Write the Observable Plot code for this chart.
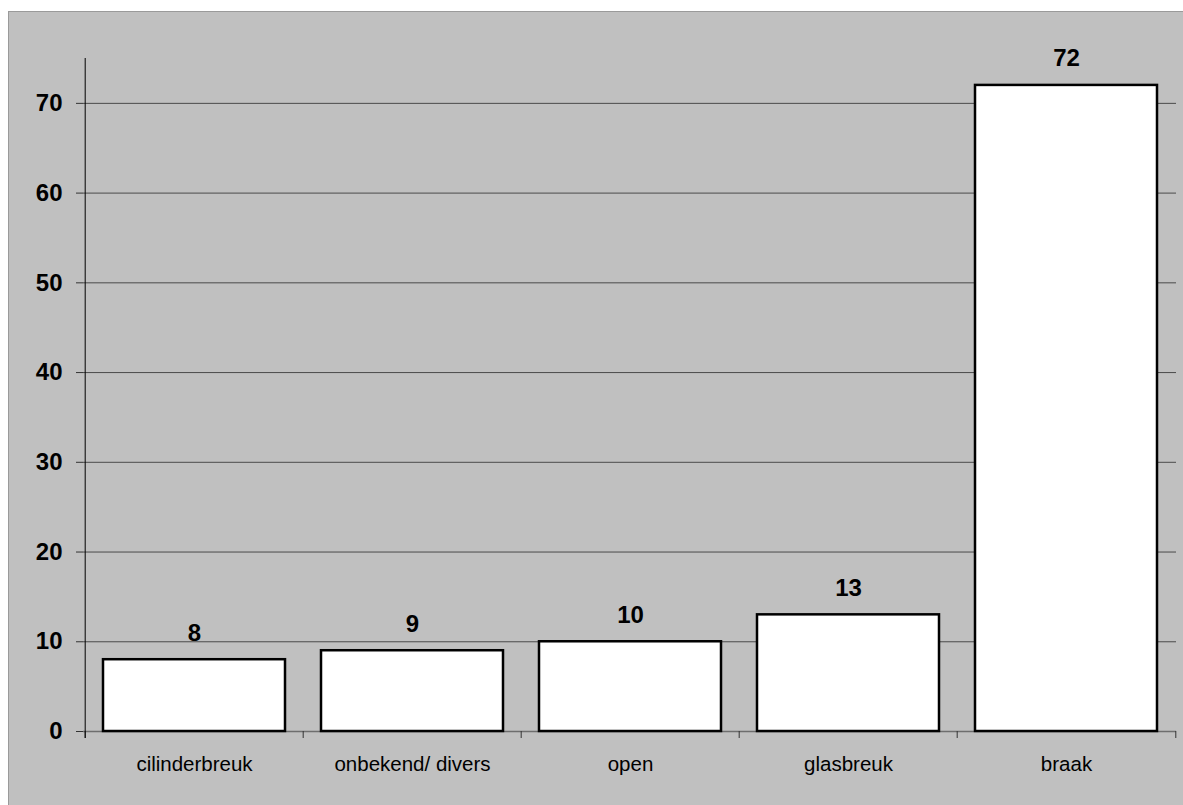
<!DOCTYPE html>
<html>
<head>
<meta charset="utf-8">
<script src="https://cdn.jsdelivr.net/npm/d3@7"></script>
<script src="https://cdn.jsdelivr.net/npm/@observablehq/plot@0.6"></script>
<style>
  html, body { margin: 0; padding: 0; background: #ffffff; }
  #bg { position: absolute; left: 8px; top: 11px; width: 1200px; height: 820px;
        background: #c0c0c0; border-top: 1px solid #9a9a9a; border-left: 1px solid #9a9a9a; }
  #chart { position: absolute; left: 0; top: 0; }
</style>
</head>
<body>
<div id="bg"></div>
<div id="chart"></div>
<script>
const categories = ["cilinderbreuk", "onbekend/ divers", "open", "glasbreuk", "braak"];
const values = [8, 9, 10, 13, 72];
const yTicks = [0, 10, 20, 30, 40, 50, 60, 70];
const yMax = 75;

const data = categories.map((c, i) => ({cat: c, value: values[i]}));

const W = 1183, H = 805;
const mL = 83, mR = 7, mT = 58, mB = 74;
const padInner = 0.167;
const step = (W - mL - mR) / categories.length;

const plot = Plot.plot({
  width: W,
  height: H,
  marginLeft: mL,
  marginRight: mR,
  marginTop: mT,
  marginBottom: mB,
  style: {background: "transparent", fontFamily: "'Liberation Sans', Arial, sans-serif", overflow: "visible"},
  x: {domain: categories, paddingInner: padInner, paddingOuter: padInner / 2, align: 0.5, axis: null, label: null},
  y: {domain: [0, yMax], axis: null, label: null},
  marks: [
    // gridlines
    Plot.ruleY(yTicks.filter(d => d > 0), {stroke: "#4a4a4a", strokeWidth: 1}),
    // zero baseline
    Plot.ruleY([0], {stroke: "#6e6e6e", strokeWidth: 1.5}),
    // bars
    Plot.barY(data, {x: "cat", y: "value", fill: "white", stroke: "black", strokeWidth: 2.5}),
    // category boundary ticks
    Plot.ruleX(categories, {x: d => d, dx: -step / 2, y1: 0, y2: 0, insetBottom: -7, stroke: "#333", strokeWidth: 1}),
    Plot.ruleX([categories[categories.length - 1]], {x: d => d, dx: step / 2, y1: 0, y2: 0, insetBottom: -7, stroke: "#333", strokeWidth: 1}),
    // y axis line
    Plot.ruleX([categories[0]], {x: d => d, dx: -step / 2, y1: yMax, y2: 0, insetBottom: -7, stroke: "black", strokeWidth: 1}),
    // y axis ticks & labels
    Plot.axisY(yTicks, {tickSize: 7, tickPadding: 14, stroke: "#333", fontSize: 24, fontWeight: "bold", fill: "black", label: null}),
    // x labels
    Plot.axisX(categories, {tickSize: 0, tickPadding: 25, fontSize: 20.5, fill: "black", label: null}),
    // value labels
    Plot.text(data, {x: "cat", y: "value", text: d => String(d.value), lineAnchor: "bottom", dy: -19, fontSize: 24, fontWeight: "bold", fill: "black"})
  ]
});
document.getElementById("chart").appendChild(plot);
</script>
</body>
</html>
